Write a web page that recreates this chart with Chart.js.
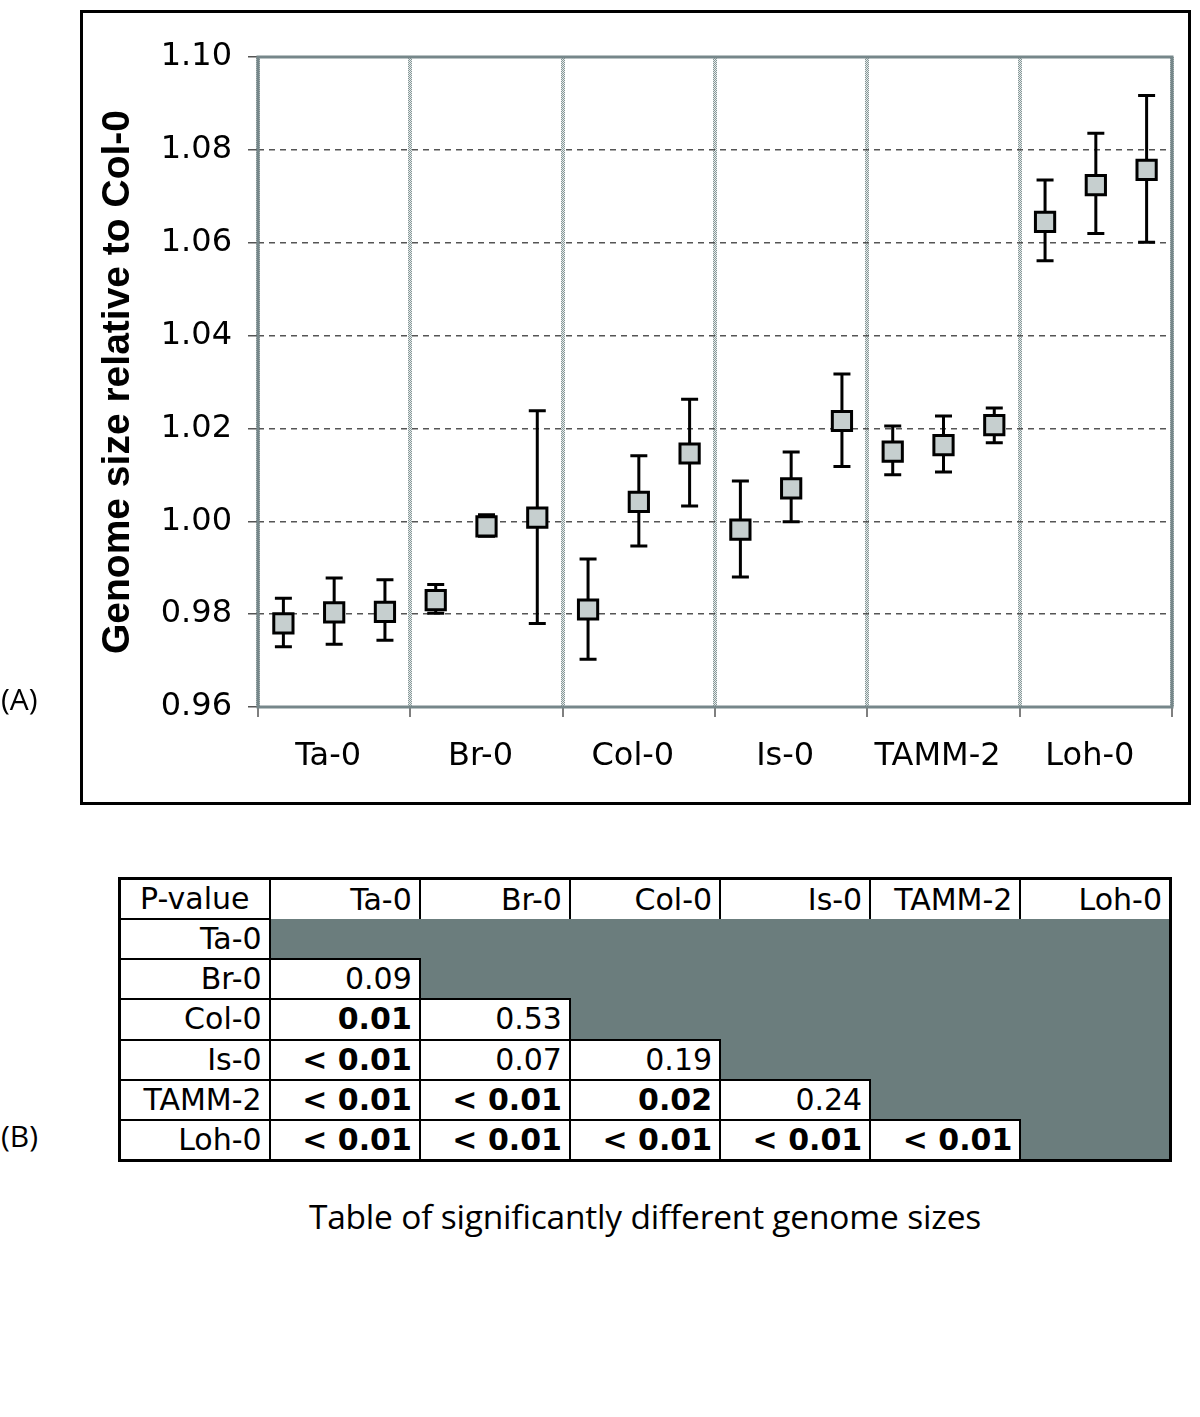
<!DOCTYPE html>
<html><head><meta charset="utf-8">
<script src="https://cdn.jsdelivr.net/npm/chart.js@4/dist/chart.umd.min.js"></script>
<style>
body{margin:0;background:#fff;width:1200px;height:1417px;position:relative;overflow:hidden;font-family:"DejaVu Sans",sans-serif;}
#frame{position:absolute;left:80px;top:10px;width:1105px;height:789px;border:3px solid #000;}
#c{position:absolute;left:0;top:0;}
.lab{position:absolute;font-family:"Open Sans",sans-serif;font-size:30px;color:#000;line-height:1;white-space:nowrap;}
table{position:absolute;left:118px;top:877px;width:1054px;height:285px;border-collapse:collapse;table-layout:fixed;border:3px solid #000;font-size:30px;color:#000;}
td{border:2.5px solid #000;text-align:right;padding:0 7px 0 0;height:38px;line-height:1;white-space:nowrap;overflow:hidden;}
td.g{background:#6b7d7d;border:none;}
td.h{border-bottom:none;}
td.pv{text-align:center;padding:0;}
td b{font-weight:bold;}
</style></head>
<body>
<div id="frame"></div>
<canvas id="c" width="1200" height="800"></canvas>
<div class="lab" id="la" style="left:1px;top:684px;">(A)</div>
<div class="lab" id="lb" style="left:1px;top:1121px;">(B)</div>
<table id="tbl"></table>
<div class="lab" id="cap" style="left:0;width:1290px;text-align:center;top:1200px;font-size:33.5px;letter-spacing:-0.2px;">Table of significantly different genome sizes</div>
<script>
// ---- data ----
const categories = ['Ta-0','Br-0','Col-0','Is-0','TAMM-2','Loh-0'];
const genomeMean = [0.9780,0.9804,0.9805, 0.9830,0.9989,1.0008, 0.9810,1.0042,1.0146, 0.9982,1.0071,1.0216, 1.0150,1.0164,1.0207, 1.0645,1.0724,1.0757];
const errHigh    = [0.9834,0.9878,0.9874, 0.9864,1.0014,1.0238, 0.9919,1.0141,1.0263, 1.0087,1.0149,1.0317, 1.0205,1.0227,1.0244, 1.0735,1.0836,1.0917];
const errLow     = [0.9730,0.9735,0.9744, 0.9802,0.9968,0.9780, 0.9703,0.9947,1.0033, 0.9880,0.9999,1.0118, 1.0100,1.0106,1.0169, 1.0561,1.0620,1.0601];
const yMin = 0.96, yMax = 1.10, yStep = 0.02;
const pLabels = ['Ta-0','Br-0','Col-0','Is-0','TAMM-2','Loh-0'];
const pValues = [
  [],
  ['0.09'],
  ['0.01','0.53'],
  ['< 0.01','0.07','0.19'],
  ['< 0.01','< 0.01','0.02','0.24'],
  ['< 0.01','< 0.01','< 0.01','< 0.01','< 0.01']
];
const alpha = 0.05;

// ---- table ----
(function(){
  const t = document.getElementById('tbl');
  let html = '<tr><td class="pv">P-value</td>' + pLabels.map(l=>'<td class="h">'+l+'</td>').join('') + '</tr>';
  pLabels.forEach((r,ri)=>{
    html += '<tr><td>'+r+'</td>';
    for(let ci=0;ci<pLabels.length;ci++){
      if(ci<ri){
        const v = pValues[ri][ci];
        const num = parseFloat(v.replace('<','').trim());
        const sig = v.indexOf('<')>=0 || num < alpha;
        html += '<td>'+(sig?'<b>'+v+'</b>':v)+'</td>';
      } else html += '<td class="g"></td>';
    }
    html += '</tr>';
  });
  t.innerHTML = html;
})();

// ---- chart ----
const cv = document.getElementById('c');
const pc = document.createElement('canvas'); pc.width=2; pc.height=2;
const pcx = pc.getContext('2d');
pcx.fillStyle='#e6ebeb'; pcx.fillRect(0,0,2,2);
pcx.fillStyle='#869797'; pcx.fillRect(0,0,1,1); pcx.fillRect(1,1,1,1);
const checker = cv.getContext('2d').createPattern(pc,'repeat');

const plotFrame = {
  id:'plotFrame',
  beforeDatasetsDraw(chart){
    const {ctx, chartArea:a} = chart;
    ctx.save(); ctx.strokeStyle='#76878a'; ctx.lineWidth=3;
    ctx.strokeRect(a.left, a.top, a.right-a.left, a.bottom-a.top);
    ctx.restore();
  }
};
const errorBars = {
  id:'errorBars',
  beforeDatasetsDraw(chart){
    const {ctx, scales:{x,y}} = chart;
    ctx.save(); ctx.strokeStyle='#000'; ctx.lineWidth=3;
    genomeMean.forEach((m,i)=>{
      const px = x.getPixelForValue(i+0.5);
      const yt = y.getPixelForValue(errHigh[i]), yb = y.getPixelForValue(errLow[i]);
      ctx.beginPath();
      ctx.moveTo(px,yt); ctx.lineTo(px,yb);
      ctx.moveTo(px-8.5,yt); ctx.lineTo(px+8.5,yt);
      ctx.moveTo(px-8.5,yb); ctx.lineTo(px+8.5,yb);
      ctx.stroke();
    });
    ctx.restore();
  }
};

const nPts = genomeMean.length, perGroup = nPts / categories.length;
new Chart(cv, {
  type:'scatter',
  data:{datasets:[{
    data: genomeMean.map((v,i)=>({x:i+0.5, y:v})),
    pointStyle:'rect', radius:13.6, hoverRadius:13.6,
    backgroundColor:'#c6cfcf', borderColor:'#000', borderWidth:3
  }]},
  options:{
    responsive:false, animation:false, devicePixelRatio:1,
    layout:{padding:{left:95, top:57, right:28, bottom:0}},
    plugins:{legend:{display:false}, tooltip:{enabled:false}},
    scales:{
      x:{
        type:'linear', min:0, max:nPts,
        afterBuildTicks(s){ const t=[]; for(let v=0; v<=nPts; v+=perGroup/2) t.push({value:v}); s.ticks=t; },
        afterFit(s){ s.height = 93; },
        ticks:{
          callback(v){ const k=(v-perGroup/2)/perGroup; return Number.isInteger(k)&&k>=0&&k<categories.length?categories[k]:''; },
          font:{family:'DejaVu Sans', size:32}, color:'#000', padding:20, maxRotation:0, autoSkip:false, labelOffset:-6
        },
        grid:{
          color:(c)=> (c.tick && c.tick.value % perGroup === 0) ? checker : 'rgba(0,0,0,0)',
          lineWidth:4, tickLength:10, tickWidth:1.5,
          tickColor:(c)=> (c.tick && c.tick.value % perGroup === 0) ? '#555' : 'rgba(0,0,0,0)'
        },
        border:{display:false}
      },
      y:{
        min:yMin, max:yMax,
        afterBuildTicks(s){ const t=[]; for(let k=0; k<=Math.round((yMax-yMin)/yStep); k++) t.push({value: +(yMin+k*yStep).toFixed(2)}); s.ticks=t; },
        afterFit(s){ s.width = 163; },
        ticks:{ callback:(v)=>v.toFixed(2), font:{family:'DejaVu Sans', size:32}, color:'#000', padding:16 },
        grid:{ color:'#555', lineWidth:1.5, tickLength:10, tickWidth:1.5, tickColor:'#555' },
        border:{display:false, dash:[6,5]},
        title:{display:true, text:'Genome size relative to Col-0', color:'#000', padding:0,
               font:{family:'Liberation Sans', weight:'bold', size:39}}
      }
    }
  },
  plugins:[plotFrame, errorBars]
});
</script>
</body></html>
